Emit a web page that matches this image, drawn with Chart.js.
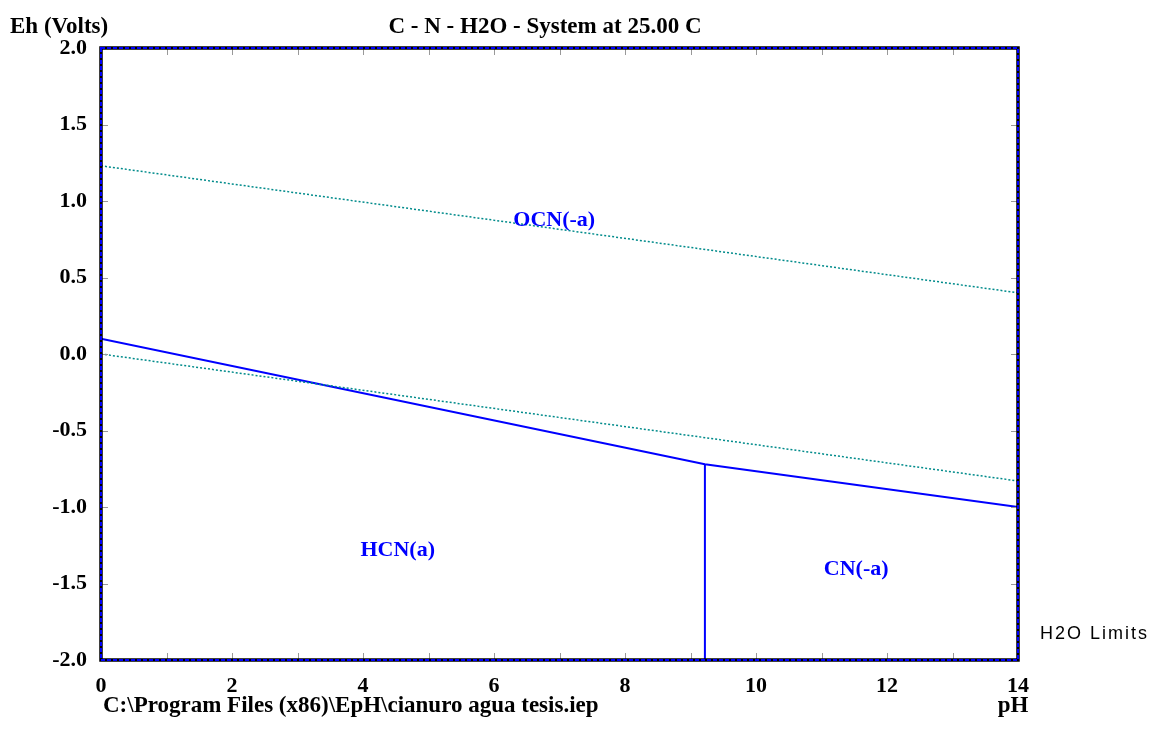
<!DOCTYPE html>
<html>
<head>
<meta charset="utf-8">
<script src="https://cdn.jsdelivr.net/npm/chart.js@4/dist/chart.umd.min.js"></script>
<style>
  body { margin: 0; background: #fff; }
  canvas { display: block; }
</style>
</head>
<body>
<canvas id="ephChart" width="1152" height="745"></canvas>
<script>
// water stability limits (dotted)
const phWater = [0, 14];
const ehUpperLimit = [1.23, 0.40];
const ehLowerLimit = [0.0, -0.83];

// HCN / CN- boundary
const phBoundary = [0, 9.22, 14];
const ehBoundary = [0.10, -0.72, -1.0];
const phVertical = [9.22, 9.22];
const ehVertical = [-0.72, -2.0];

// species labels
const speciesNames = ["OCN(-a)", "HCN(a)", "CN(-a)"];
const speciesPh = [6.92, 4.53, 11.53];
const speciesEh = [0.876, -1.28, -1.41];

const xTicks = [0, 2, 4, 6, 8, 10, 12, 14];
const yTicks = [-2.0, -1.5, -1.0, -0.5, 0.0, 0.5, 1.0, 1.5, 2.0];

const serif = "'Liberation Serif', 'Times New Roman', serif";
const toPts = (xs, ys) => xs.map((x, i) => ({ x: x, y: ys[i] }));

const frame = {
  id: "frame",
  afterDatasetsDraw(chart) {
    const { ctx, chartArea: a, scales } = chart;
    const xs = scales.x, ys = scales.y;
    ctx.save();

    // inward tick marks
    ctx.strokeStyle = "#999";
    ctx.lineWidth = 1;
    ctx.beginPath();
    for (let v = 0; v <= 14; v++) {
      const px = Math.round(xs.getPixelForValue(v)) + 0.5;
      ctx.moveTo(px, a.bottom); ctx.lineTo(px, a.bottom - 7);
      ctx.moveTo(px, a.top); ctx.lineTo(px, a.top + 7);
    }
    yTicks.forEach((v) => {
      const py = Math.round(ys.getPixelForValue(v)) + 0.5;
      ctx.moveTo(a.left, py); ctx.lineTo(a.left + 7, py);
      ctx.moveTo(a.right, py); ctx.lineTo(a.right - 7, py);
    });
    ctx.stroke();

    // frame: black with blue dashes
    ctx.lineWidth = 3.5;
    ctx.strokeStyle = "#000";
    ctx.strokeRect(a.left, a.top, a.right - a.left, a.bottom - a.top);
    ctx.lineWidth = 2;
    ctx.strokeStyle = "#0000ff";
    ctx.setLineDash([4, 2]);
    ctx.strokeRect(a.left, a.top, a.right - a.left, a.bottom - a.top);
    ctx.setLineDash([]);

    // species labels
    ctx.fillStyle = "#0000ff";
    ctx.font = "bold 22px " + serif;
    ctx.textAlign = "center";
    ctx.textBaseline = "middle";
    speciesNames.forEach((name, i) => {
      ctx.fillText(name, xs.getPixelForValue(speciesPh[i]), ys.getPixelForValue(speciesEh[i]));
    });

    // titles and captions
    ctx.fillStyle = "#000";
    ctx.font = "bold 23px " + serif;
    ctx.fillText("C - N - H2O - System at 25.00 C", 545, 27);
    ctx.textAlign = "left";
    ctx.fillText("Eh (Volts)", 10, 27);
    ctx.fillText("C:\\Program Files (x86)\\EpH\\cianuro agua tesis.iep", 103, 706);
    ctx.textAlign = "center";
    ctx.fillText("pH", 1013, 706);

    ctx.textAlign = "left";
    ctx.font = "18px 'Liberation Sans', Arial, sans-serif";
    ctx.letterSpacing = "2px";
    ctx.fillText("H2O Limits", 1040, 634);
    ctx.restore();
  }
};

new Chart(document.getElementById("ephChart"), {
  type: "scatter",
  data: {
    datasets: [
      {
        label: "upper",
        data: toPts(phWater, ehUpperLimit),
        showLine: true, borderColor: "#008b8b", borderWidth: 1.5,
        borderDash: [2, 2], pointRadius: 0
      },
      {
        label: "lower",
        data: toPts(phWater, ehLowerLimit),
        showLine: true, borderColor: "#008b8b", borderWidth: 1.5,
        borderDash: [2, 2], pointRadius: 0
      },
      {
        label: "boundary",
        data: toPts(phBoundary, ehBoundary),
        showLine: true, borderColor: "#0000ff", borderWidth: 2, pointRadius: 0
      },
      {
        label: "vertical",
        data: toPts(phVertical, ehVertical),
        showLine: true, borderColor: "#0000ff", borderWidth: 2, pointRadius: 0
      }
    ]
  },
  options: {
    responsive: false,
    animation: false,
    layout: { padding: { left: 0, top: 48, right: 134, bottom: 0 } },
    plugins: { legend: { display: false }, tooltip: { enabled: false } },
    scales: {
      x: {
        type: "linear", min: 0, max: 14,
        afterFit: (s) => { s.height = 85; },
        afterBuildTicks: (s) => { s.ticks = xTicks.map((v) => ({ value: v })); },
        grid: { display: false, drawTicks: false },
        border: { display: false },
        ticks: {
          padding: 13, color: "#000", maxRotation: 0,
          font: { family: serif, size: 22, weight: "bold" }
        }
      },
      y: {
        type: "linear", min: -2, max: 2,
        afterFit: (s) => { s.width = 101; },
        afterBuildTicks: (s) => { s.ticks = yTicks.map((v) => ({ value: v })); },
        grid: { display: false, drawTicks: false },
        border: { display: false },
        ticks: {
          padding: 14, color: "#000",
          font: { family: serif, size: 22, weight: "bold" },
          callback: (v) => Number(v).toFixed(1)
        }
      }
    }
  },
  plugins: [frame]
});
</script>
</body>
</html>
